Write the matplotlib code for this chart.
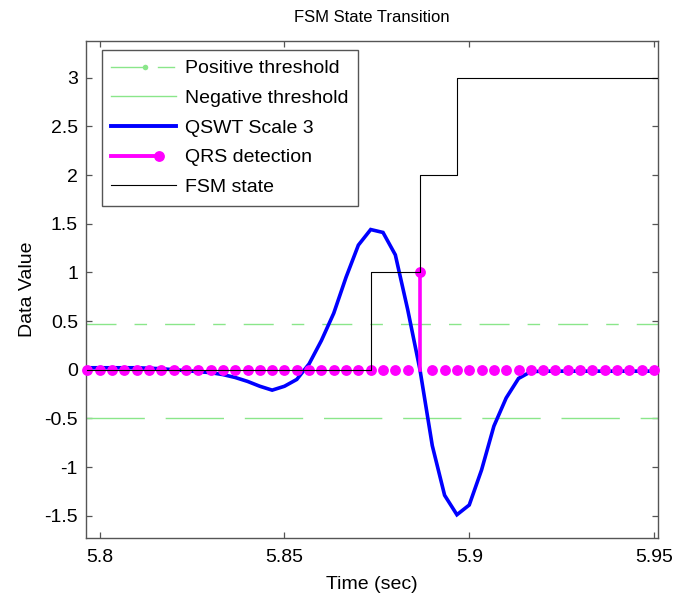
import numpy as np
import matplotlib
matplotlib.use("Agg")
import matplotlib.pyplot as plt
from matplotlib.lines import Line2D
from matplotlib.legend_handler import HandlerBase

plt.rcParams['font.family'] = ['Liberation Sans', 'DejaVu Sans']
plt.rcParams['axes.unicode_minus'] = False

# ---------------- data ----------------
fs = 300.0
sample_idx = np.arange(1739, 1787)          # sample numbers shown
pos_threshold = 0.47
neg_threshold = -0.50

qswt_scale3 = [0.02, 0.02, 0.02, 0.02, 0.02, 0.015, 0.01, 0.0, -0.01, -0.02,
               -0.03, -0.05, -0.08, -0.12, -0.17, -0.21, -0.17, -0.10, 0.06, 0.30,
               0.58, 0.95, 1.28, 1.44, 1.41, 1.18, 0.62, 0.0, -0.78, -1.29,
               -1.49, -1.39, -1.03, -0.58, -0.29, -0.09, -0.02, -0.015, -0.015, -0.015,
               -0.015, -0.015, -0.015, -0.015, -0.015, -0.015, -0.015, -0.015]
qrs_detection = [0] * 27 + [1] + [0] * 20
fsm_state = [0] * 23 + [1] * 4 + [2] * 3 + [3] * 18

xticks = [5.8, 5.85, 5.9, 5.95]
xticklabels = ['5.8', '5.85', '5.9', '5.95']
yticks = [-1.5, -1, -0.5, 0, 0.5, 1, 1.5, 2, 2.5, 3]
yticklabels = ['-1.5', '-1', '-0.5', '0', '0.5', '1', '1.5', '2', '2.5', '3']

t = sample_idx / fs
xlim = (5.79637, 5.95108)
ylim = (-1.729, 3.374)

green = '#8ae68a'
magenta = '#ff00ff'
blue = '#0000ff'

fig = plt.figure(figsize=(6.88, 5.95), dpi=100)
ax = fig.add_axes([0.1254, 0.0958, 0.8310, 0.8348])

# thresholds
ax.plot(xlim, [pos_threshold, pos_threshold], color=green, lw=1.0,
        dashes=(21.6, 13.0, 9.0, 13.0))
ax.plot(xlim, [neg_threshold, neg_threshold], color=green, lw=1.0,
        dashes=(42.0, 15.0))

# QSWT scale 3
ax.plot(t, qswt_scale3, color=blue, lw=2.6, solid_joinstyle='miter', zorder=3)

# QRS detection stem
qrs = np.array(qrs_detection, dtype=float)
inside = (t >= xlim[0]) & (t <= xlim[1])
for ti, qi in zip(t[inside], qrs[inside]):
    if qi != 0:
        ax.plot([ti, ti], [0, qi], color=magenta, lw=2.6, zorder=4)
ax.plot(t[inside], qrs[inside], linestyle='none', marker='o', ms=7.8,
        color=magenta, markeredgewidth=0, zorder=4, clip_on=False)

# FSM state
ax.plot(t, fsm_state, color='black', lw=0.8, drawstyle='steps-post', zorder=5)

ax.set_xlim(*xlim)
ax.set_ylim(*ylim)
ax.set_xticks(xticks)
ax.set_xticklabels(xticklabels)
ax.set_yticks(yticks)
ax.set_yticklabels(yticklabels)

spine_col = '#555555'
for s in ax.spines.values():
    s.set_color(spine_col)
    s.set_linewidth(1.0)
ax.tick_params(direction='in', length=4, width=0.9, color=spine_col,
               top=True, right=True, labelsize=14)
ax.tick_params(axis='x', pad=8)
ax.tick_params(axis='y', pad=6)

ax.set_title('FSM State Transition', fontsize=12, pad=14)
ax.set_xlabel('Time (sec)', fontsize=14, labelpad=7)
ax.set_ylabel('Data Value', fontsize=14, labelpad=6)


class PosThrHandler(HandlerBase):
    def create_artists(self, legend, orig_handle, xdescent, ydescent,
                       width, height, fontsize, trans):
        y = height / 2 - ydescent
        x0 = -xdescent
        a = Line2D([x0, x0 + 0.53 * width], [y, y], color=green, lw=1.0, transform=trans)
        d = Line2D([x0 + 0.53 * width], [y], color=green, marker='o', ms=4,
                   markeredgewidth=0, transform=trans)
        b = Line2D([x0 + 0.72 * width, x0 + 0.97 * width], [y, y], color=green,
                   lw=1.0, transform=trans)
        return [a, d, b]


class StemHandler(HandlerBase):
    def create_artists(self, legend, orig_handle, xdescent, ydescent,
                       width, height, fontsize, trans):
        y = height / 2 - ydescent
        x0 = -xdescent
        a = Line2D([x0, x0 + 0.74 * width], [y, y], color=magenta, lw=2.8, transform=trans)
        d = Line2D([x0 + 0.74 * width], [y], color=magenta, marker='o', ms=7.8,
                   markeredgewidth=0, transform=trans)
        return [a, d]


h_pos = Line2D([], [], color=green)
h_neg = Line2D([], [], color=green, lw=1.0)
h_qswt = Line2D([], [], color=blue, lw=2.8)
h_qrs = Line2D([], [], color=magenta)
h_fsm = Line2D([], [], color='black', lw=0.8)

leg = ax.legend([h_pos, h_neg, h_qswt, h_qrs, h_fsm],
                ['Positive threshold', 'Negative threshold', 'QSWT Scale 3',
                 'QRS detection', 'FSM state'],
                handler_map={h_pos: PosThrHandler(), h_qrs: StemHandler()},
                loc='upper left', bbox_to_anchor=(0.027, 0.9825), borderaxespad=0,
                fontsize=14, handlelength=3.3, handletextpad=0.46,
                labelspacing=0.62, borderpad=0.5, fancybox=False,
                framealpha=1, edgecolor=spine_col)
leg.get_frame().set_linewidth(1.0)
leg.set_zorder(10)

fig.savefig('out.png', dpi=100)
